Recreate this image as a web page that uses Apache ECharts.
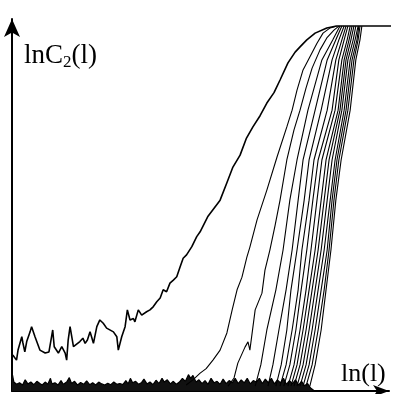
<!DOCTYPE html>
<html>
<head>
<meta charset="utf-8">
<script src="https://cdn.jsdelivr.net/npm/echarts@6/dist/echarts.min.js"></script>
<style>
  html, body { margin: 0; padding: 0; background: #fff; }
  #chart { width: 395px; height: 394px; }
</style>
</head>
<body>
<div id="chart"></div>
<script>
// values, arbitrary units (x: ln(l) 0..10, y: lnC2(l) 0..10)
const curve1 = [
  [0.02, 0.97], [0.12, 0.83], [0.16, 1.10], [0.26, 1.46], [0.29, 1.29], [0.34, 1.05],
  [0.39, 1.33], [0.48, 1.59], [0.52, 1.73], [0.61, 1.46], [0.74, 1.10], [0.88, 1.02],
  [0.98, 1.05], [1.05, 1.46], [1.08, 1.64], [1.12, 1.19], [1.23, 1.02], [1.32, 1.19],
  [1.41, 1.02], [1.45, 0.83], [1.49, 1.37], [1.54, 1.73], [1.63, 1.19], [1.80, 1.33],
  [1.88, 1.42], [1.94, 1.28], [2.00, 1.37], [2.07, 1.59], [2.11, 1.46], [2.16, 1.28],
  [2.25, 1.73], [2.33, 1.91], [2.42, 1.82], [2.51, 1.69], [2.69, 1.59], [2.78, 1.46],
  [2.82, 1.10], [2.91, 1.46], [3.00, 1.73], [3.06, 2.18], [3.13, 1.91], [3.22, 1.95],
  [3.26, 1.86], [3.35, 2.18], [3.44, 2.04], [3.57, 2.13], [3.66, 2.18], [3.75, 2.27],
  [3.84, 2.40], [3.93, 2.50], [4.01, 2.72], [4.10, 2.67], [4.19, 2.90], [4.28, 2.98],
  [4.37, 3.07], [4.46, 3.34], [4.54, 3.57], [4.63, 3.66], [4.77, 3.88], [4.90, 4.15],
  [4.99, 4.28], [5.20, 4.70], [5.52, 5.13], [5.70, 5.60], [5.86, 6.02], [6.05, 6.34],
  [6.22, 6.80], [6.39, 7.10], [6.58, 7.40], [6.76, 7.74], [6.95, 8.02], [7.11, 8.36],
  [7.32, 8.82], [7.51, 9.11], [7.64, 9.25], [7.82, 9.44], [8.04, 9.62], [8.35, 9.76],
  [8.61, 9.81]
];
const curve2 = [
  [4.62, 0.16], [4.80, 0.30], [4.99, 0.48], [5.15, 0.60], [5.33, 0.83], [5.52, 1.10],
  [5.70, 1.56], [5.84, 2.18], [5.97, 2.72], [6.10, 3.06], [6.23, 3.60], [6.31, 3.87],
  [6.50, 4.60], [6.76, 5.40], [7.03, 6.29], [7.29, 7.10], [7.43, 7.55], [7.56, 8.09],
  [7.72, 8.63], [7.90, 8.98], [8.09, 9.35], [8.25, 9.62], [8.44, 9.76], [8.62, 9.81]
];
const curve3 = [
  [5.73, 0.13], [5.89, 0.35], [5.99, 0.75], [6.18, 1.18], [6.26, 1.32], [6.31, 1.10],
  [6.45, 2.18], [6.63, 2.63], [6.71, 3.25], [6.84, 3.79], [6.98, 4.46], [7.11, 5.13],
  [7.29, 6.21], [7.48, 7.02], [7.64, 7.55], [7.80, 8.15], [7.96, 8.68], [8.17, 9.17],
  [8.35, 9.49], [8.54, 9.70], [8.67, 9.81]
];
// the steep bundle: same y levels for each curve
const bundleY = [0.13, 0.70, 1.64, 2.72, 3.79, 5.13, 6.21, 7.55, 8.90, 9.44, 9.81];
const bundleX = [
  [6.45, 6.60, 6.76, 7.00, 7.19, 7.37, 7.56, 7.85, 8.22, 8.51, 8.70],
  [6.79, 6.92, 7.08, 7.27, 7.43, 7.59, 7.72, 8.04, 8.36, 8.59, 8.75],
  [7.00, 7.14, 7.29, 7.40, 7.56, 7.75, 7.88, 8.20, 8.49, 8.67, 8.81],
  [7.11, 7.27, 7.43, 7.59, 7.69, 7.88, 8.01, 8.36, 8.59, 8.75, 8.86],
  [7.21, 7.37, 7.53, 7.67, 7.82, 7.98, 8.12, 8.49, 8.67, 8.81, 8.91],
  [7.32, 7.48, 7.64, 7.80, 7.93, 8.09, 8.22, 8.57, 8.75, 8.89, 8.97],
  [7.40, 7.56, 7.72, 7.88, 8.04, 8.20, 8.33, 8.65, 8.81, 8.94, 9.02],
  [7.48, 7.64, 7.80, 7.96, 8.12, 8.28, 8.41, 8.70, 8.86, 8.99, 9.07],
  [7.56, 7.72, 7.88, 8.04, 8.20, 8.36, 8.49, 8.75, 8.91, 9.05, 9.12],
  [7.64, 7.80, 7.96, 8.12, 8.28, 8.44, 8.57, 8.81, 8.97, 9.10, 9.18],
  [7.72, 7.88, 8.04, 8.20, 8.36, 8.49, 8.62, 8.86, 9.02, 9.15, 9.20],
  [7.80, 7.96, 8.12, 8.28, 8.41, 8.54, 8.67, 8.91, 9.07, 9.18, 9.23],
  [7.90, 8.04, 8.20, 8.33, 8.46, 8.59, 8.73, 8.97, 9.12, 9.23, 9.28]
];
const plateau = [[8.61, 9.81], [10.16, 9.81]];
// noisy band along the bottom where the curves sit before they rise
const baseNoise = [
  [0, 0.50], [0.05, 0.24], [0.12, 0.18], [0.2, 0.22], [0.28, 0.16], [0.35, 0.30], [0.42, 0.19],
  [0.5, 0.24], [0.58, 0.17], [0.66, 0.26], [0.74, 0.20], [0.8, 0.16], [0.88, 0.24], [0.95, 0.18],
  [1.02, 0.34], [1.06, 0.19], [1.14, 0.22], [1.22, 0.16], [1.3, 0.28], [1.36, 0.18], [1.45, 0.24],
  [1.52, 0.36], [1.58, 0.20], [1.66, 0.26], [1.74, 0.16], [1.82, 0.23], [1.9, 0.18], [1.98, 0.27],
  [2.06, 0.17], [2.14, 0.22], [2.22, 0.16], [2.3, 0.24], [2.38, 0.19], [2.46, 0.16], [2.54, 0.21],
  [2.62, 0.17], [2.7, 0.24], [2.78, 0.18], [2.86, 0.20], [2.94, 0.17], [3.02, 0.28], [3.08, 0.19],
  [3.14, 0.34], [3.2, 0.22], [3.28, 0.26], [3.36, 0.18], [3.44, 0.23], [3.5, 0.32], [3.58, 0.19],
  [3.66, 0.24], [3.74, 0.17], [3.82, 0.29], [3.9, 0.20], [3.98, 0.34], [4.04, 0.24], [4.12, 0.30],
  [4.2, 0.19], [4.28, 0.26], [4.36, 0.18], [4.44, 0.24], [4.52, 0.34], [4.6, 0.26], [4.68, 0.44],
  [4.74, 0.34], [4.8, 0.42], [4.88, 0.24], [4.96, 0.30], [5.04, 0.20], [5.12, 0.28], [5.2, 0.18],
  [5.28, 0.34], [5.36, 0.22], [5.44, 0.26], [5.52, 0.18], [5.6, 0.32], [5.68, 0.20], [5.76, 0.28],
  [5.84, 0.22], [5.92, 0.34], [6.0, 0.20], [6.08, 0.30], [6.16, 0.22], [6.24, 0.34], [6.32, 0.19],
  [6.4, 0.28], [6.48, 0.24], [6.56, 0.34], [6.64, 0.20], [6.72, 0.32], [6.8, 0.22], [6.88, 0.34],
  [6.96, 0.19], [7.04, 0.30], [7.12, 0.22], [7.2, 0.34], [7.28, 0.18], [7.36, 0.28], [7.44, 0.20],
  [7.52, 0.30], [7.6, 0.16], [7.68, 0.26], [7.76, 0.14], [7.84, 0.20], [7.92, 0.08], [8.0, 0.02]
];

const chart = echarts.init(document.getElementById('chart'), null, { renderer: 'canvas' });

const lineSeries = (data, width) => ({
  type: 'line',
  data: data,
  showSymbol: false,
  clip: false,
  silent: true,
  lineStyle: { color: '#000', width: width },
});

const series = [];
series.push(Object.assign(lineSeries(baseNoise, 1.2), {
  areaStyle: { color: '#111', opacity: 1, origin: 'start' },
}));
series.push(lineSeries(curve1, 1.6));
series.push(lineSeries(curve2, 1.1));
series.push(lineSeries(curve3, 1.1));
bundleX.forEach((xs) => {
  series.push(lineSeries(xs.map((x, i) => [x, bundleY[i]]), 1.1));
});
series.push(lineSeries(plateau, 1.4));

const axisCommon = {
  type: 'value',
  min: 0,
  max: 10,
  axisTick: { show: false },
  axisLabel: { show: false },
  splitLine: { show: false },
};

const serif = 'Liberation Serif';

chart.setOption({
  animation: false,
  backgroundColor: '#fff',
  title: [
    {
      text: '{a|lnC}{b|2}{a|(l)}',
      left: 24,
      top: 41,
      padding: 0,
      textStyle: {
        fontWeight: 'normal',
        rich: {
          a: { fontFamily: serif, fontSize: 27, fontWeight: 'normal', color: '#000', lineHeight: 30 },
          b: { fontFamily: serif, fontSize: 17, fontWeight: 'normal', color: '#000', lineHeight: 15, verticalAlign: 'bottom' },
        },
      },
    },
    {
      text: 'ln(l)',
      left: 341,
      top: 359,
      padding: 0,
      textStyle: { fontFamily: serif, fontSize: 26, fontWeight: 'normal', color: '#000', lineHeight: 30 },
    },
  ],
  grid: { left: 12, right: 6, top: 19, bottom: 3 },
  xAxis: Object.assign({}, axisCommon, {
    axisLine: {
      show: true,
      symbol: ['none', 'arrow'],
      symbolSize: [9, 16],
      lineStyle: { color: '#000', width: 2 },
    },
  }),
  yAxis: Object.assign({}, axisCommon, {
    axisLine: {
      show: true,
      symbol: ['none', 'arrow'],
      symbolSize: [12, 18],
      lineStyle: { color: '#000', width: 2 },
    },
  }),
  series: series,
});
</script>
</body>
</html>
